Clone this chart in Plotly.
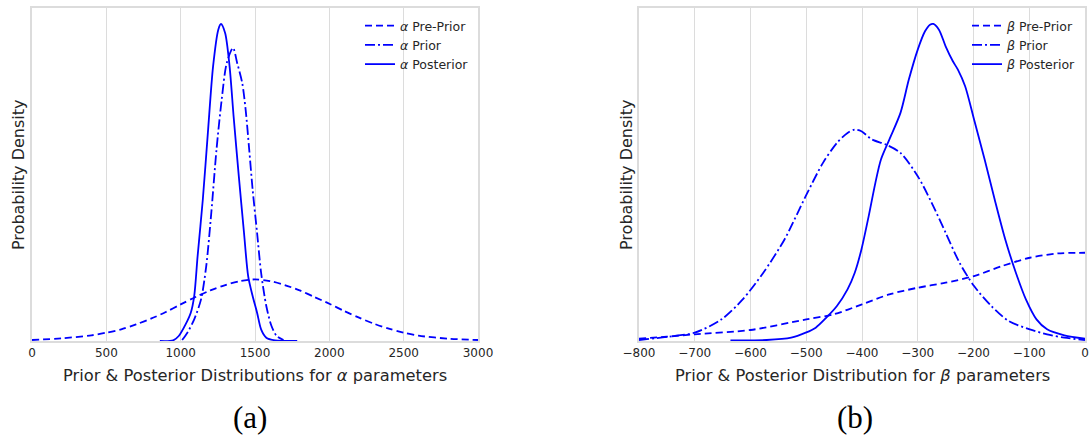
import plotly.graph_objects as go

# ---------------- data ----------------
alpha_preprior_x = [0, 200, 400, 500, 600, 700, 800, 900, 1000, 1100, 1200, 1300, 1400, 1500,
                    1600, 1700, 1800, 1900, 2000, 2100, 2200, 2300, 2400, 2500, 2600, 2800, 3000]
alpha_preprior_y = [0.003, 0.008, 0.017, 0.025, 0.035, 0.050, 0.067, 0.087, 0.110, 0.132, 0.152,
                    0.168, 0.180, 0.185, 0.180, 0.168, 0.152, 0.132, 0.112, 0.090, 0.070, 0.052,
                    0.037, 0.025, 0.016, 0.007, 0.003]

alpha_prior_x = [1010, 1045, 1091, 1137, 1172, 1206, 1241, 1276, 1310, 1352, 1380, 1414, 1437,
                 1461, 1484, 1514, 1541, 1576, 1611, 1646, 1692]
alpha_prior_y = [0.003, 0.025, 0.065, 0.125, 0.225, 0.385, 0.575, 0.725, 0.835, 0.880, 0.835,
                 0.775, 0.695, 0.575, 0.455, 0.325, 0.205, 0.105, 0.045, 0.015, 0.003]

alpha_post_x = [860, 950, 987, 1033, 1068, 1091, 1114, 1149, 1183, 1218, 1253, 1271, 1299, 1329,
                1356, 1391, 1426, 1454, 1484, 1514, 1541, 1576, 1634, 1784]
alpha_post_y = [0.0, 0.002, 0.015, 0.050, 0.085, 0.135, 0.255, 0.425, 0.625, 0.825, 0.935, 0.952,
                0.925, 0.825, 0.675, 0.495, 0.325, 0.195, 0.135, 0.085, 0.035, 0.010, 0.002, 0.0]

beta_preprior_x = [-800, -750, -700, -600, -500, -451, -400, -351, -300, -250, -199, -149, -99, -49, 0]
beta_preprior_y = [0.007, 0.013, 0.020, 0.033, 0.065, 0.080, 0.110, 0.140, 0.160, 0.175, 0.195,
                   0.225, 0.250, 0.263, 0.265]

beta_prior_x = [-800, -747, -700, -652, -614, -577, -539, -501, -470, -445, -426, -413, -401, -382,
                -357, -331, -300, -275, -250, -225, -199, -168, -137, -99, -68, -37, 0]
beta_prior_y = [0.003, 0.013, 0.025, 0.065, 0.125, 0.205, 0.305, 0.435, 0.535, 0.595, 0.625, 0.635,
                0.630, 0.605, 0.590, 0.565, 0.495, 0.415, 0.325, 0.235, 0.165, 0.105, 0.060, 0.035,
                0.020, 0.010, 0.003]

beta_post_x = [-636, -571, -527, -501, -483, -464, -445, -426, -413, -401, -388, -376, -366, -351,
               -331, -316, -300, -287, -278, -272, -262, -250, -237, -228, -215, -199, -180, -162,
               -143, -124, -106, -87, -68, -37, 0]
beta_post_y = [0.002, 0.003, 0.010, 0.025, 0.040, 0.070, 0.105, 0.155, 0.205, 0.275, 0.375, 0.475,
               0.545, 0.605, 0.685, 0.785, 0.875, 0.930, 0.950, 0.952, 0.935, 0.885, 0.840, 0.815,
               0.765, 0.665, 0.545, 0.425, 0.305, 0.205, 0.125, 0.065, 0.035, 0.017, 0.007]

alpha_ticks = [0, 500, 1000, 1500, 2000, 2500, 3000]
beta_ticks = [-800, -700, -600, -500, -400, -300, -200, -100, 0]

# ---------------- styling ----------------
BLUE = "#0000ff"
FONT = "DejaVu Sans"
TXT = "#262626"
GRID = "#dcdcdc"
LW = 1.8
DASH = "7px,4px"
DASHDOT = "10px,3px,2px,3px"

fig = go.Figure()

def add(x, y, name, dash, xa, ya, leg):
    fig.add_trace(go.Scatter(
        x=x, y=y, name=name, mode="lines",
        line=dict(color=BLUE, width=LW, dash=dash, shape="spline", smoothing=0.8),
        xaxis=xa, yaxis=ya, legend=leg))

add(alpha_preprior_x, alpha_preprior_y, "<i>α</i> Pre-Prior", DASH, "x", "y", "legend")
add(alpha_prior_x, alpha_prior_y, "<i>α</i> Prior", DASHDOT, "x", "y", "legend")
add(alpha_post_x, alpha_post_y, "<i>α</i> Posterior", "solid", "x", "y", "legend")
add(beta_preprior_x, beta_preprior_y, "<i>β</i> Pre-Prior", DASH, "x2", "y2", "legend2")
add(beta_prior_x, beta_prior_y, "<i>β</i> Prior", DASHDOT, "x2", "y2", "legend2")
add(beta_post_x, beta_post_y, "<i>β</i> Posterior", "solid", "x2", "y2", "legend2")

W, H = 1089, 438
L1, R1 = 32, 478
L2, R2 = 639, 1085
TOP, BOT = 8, 341

xcommon = dict(showgrid=True, gridcolor=GRID, gridwidth=1, showline=True, linecolor=GRID,
               linewidth=1.5, mirror=True, zeroline=False, ticks="", automargin=False,
               ticklabeloverflow="allow",
               tickfont=dict(family=FONT, size=12, color=TXT))
ycommon = dict(showgrid=False, showticklabels=False, showline=True, linecolor=GRID,
               linewidth=1.5, mirror=True, zeroline=False, ticks="", automargin=False,
               range=[0, 1.0])

legfont = dict(family=FONT, size=12.5, color=TXT)
fig.update_layout(
    template="none",
    width=W, height=H,
    margin=dict(l=0, r=0, t=0, b=0, autoexpand=False),
    paper_bgcolor="white", plot_bgcolor="white",
    font=dict(family=FONT, color=TXT),
    xaxis=dict(domain=[L1 / W, R1 / W], range=[0, 3000], tickvals=alpha_ticks, anchor="y",
               **xcommon),
    yaxis=dict(domain=[1 - BOT / H, 1 - TOP / H], anchor="x", **ycommon),
    xaxis2=dict(domain=[L2 / W, R2 / W], range=[-800, 0], tickvals=beta_ticks, anchor="y2",
                **xcommon),
    yaxis2=dict(domain=[1 - BOT / H, 1 - TOP / H], anchor="x2", **ycommon),
    legend=dict(x=360 / W, y=1 - 11 / H, xanchor="left", yanchor="top",
                bgcolor="rgba(0,0,0,0)", font=legfont, tracegroupgap=0, itemwidth=30),
    legend2=dict(x=967 / W, y=1 - 11 / H, xanchor="left", yanchor="top",
                 bgcolor="rgba(0,0,0,0)", font=legfont, tracegroupgap=0, itemwidth=30),
    showlegend=True,
)

ann = [
    dict(text="Prior &amp; Posterior Distributions for <i>α</i> parameters", x=(L1 + R1) / 2 / W,
         y=1 - 375 / H, font=dict(family=FONT, size=16.3, color=TXT)),
    dict(text="Prior &amp; Posterior Distribution for <i>β</i> parameters", x=(L2 + R2) / 2 / W,
         y=1 - 375 / H, font=dict(family=FONT, size=16.3, color=TXT)),
    dict(text="Probability Density", x=18 / W, y=1 - 175 / H, textangle=-90,
         font=dict(family=FONT, size=16, color=TXT)),
    dict(text="Probability Density", x=626 / W, y=1 - 175 / H, textangle=-90,
         font=dict(family=FONT, size=16, color=TXT)),
    dict(text="(a)", x=250 / W, y=1 - 417 / H, font=dict(family="Liberation Serif", size=31, color="#000")),
    dict(text="(b)", x=855 / W, y=1 - 417 / H, font=dict(family="Liberation Serif", size=31, color="#000")),
]
for a in ann:
    a.update(xref="paper", yref="paper", showarrow=False, xanchor="center", yanchor="middle")
fig.update_layout(annotations=ann)

fig.write_html("out.html")
